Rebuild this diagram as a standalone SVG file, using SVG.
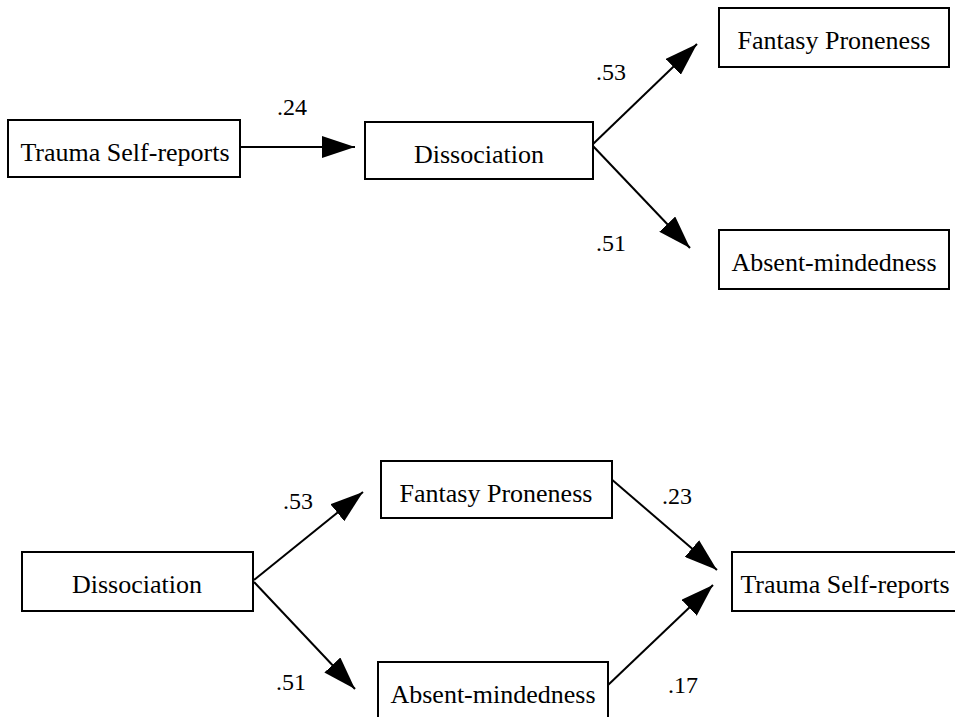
<svg xmlns="http://www.w3.org/2000/svg" width="955" height="717" viewBox="0 0 955 717">
<style>
.box{fill:#fff;stroke:#000;stroke-width:2}
.t{font-size:26px;fill:#000;text-anchor:middle}
.lbl{font-size:24px;fill:#000}
.c{stroke:#000;stroke-width:2;fill:none;marker-end:url(#ah)}
</style>
<defs>
<marker id="ah" markerUnits="userSpaceOnUse" markerWidth="34" markerHeight="22" refX="33" refY="11" orient="auto">
<path d="M0,0 L33,11 L0,22 z" fill="#000"/>
</marker>
</defs>
<rect width="955" height="717" fill="#fff"/>
<g id="connectors">
<line class="c" x1="240" y1="147" x2="355" y2="147"/>
<line class="c" x1="592" y1="145" x2="697" y2="44"/>
<line class="c" x1="592" y1="145" x2="690" y2="248"/>
<line class="c" x1="254" y1="580" x2="363" y2="492"/>
<line class="c" x1="254" y1="582" x2="355" y2="689"/>
<line class="c" x1="610" y1="478" x2="717" y2="570"/>
<line class="c" x1="607" y1="686" x2="713" y2="585"/>
</g>
<g id="labels" font-family="Liberation Serif, serif">
<text class="lbl" x="277" y="115">.24</text>
<text class="lbl" x="596" y="80">.53</text>
<text class="lbl" x="596" y="251">.51</text>
<text class="lbl" x="283" y="509">.53</text>
<text class="lbl" x="276" y="690">.51</text>
<text class="lbl" x="662" y="504">.23</text>
<text class="lbl" x="668" y="693">.17</text>
</g>
<g font-family="Liberation Serif, serif">
<g id="n1"><rect class="box" x="8" y="120" width="232" height="57"/><text class="t" x="125" y="161">Trauma Self-reports</text></g>
<g id="n2"><rect class="box" x="365" y="122" width="228" height="57"/><text class="t" x="479" y="163">Dissociation</text></g>
<g id="n3"><rect class="box" x="719" y="8" width="230" height="59"/><text class="t" x="834" y="49">Fantasy Proneness</text></g>
<g id="n4"><rect class="box" x="719" y="230" width="230" height="59"/><text class="t" x="834" y="271">Absent-mindedness</text></g>
<g id="n5"><rect class="box" x="22" y="552" width="231" height="59"/><text class="t" x="137" y="593">Dissociation</text></g>
<g id="n6"><rect class="box" x="381" y="461" width="231" height="57"/><text class="t" x="496" y="502">Fantasy Proneness</text></g>
<g id="n7"><rect class="box" x="378" y="662" width="230" height="70"/><text class="t" x="493" y="703">Absent-mindedness</text></g>
<g id="n8"><rect class="box" x="732" y="552" width="240" height="59"/><text class="t" x="845" y="593">Trauma Self-reports</text></g>
</g>
</svg>
